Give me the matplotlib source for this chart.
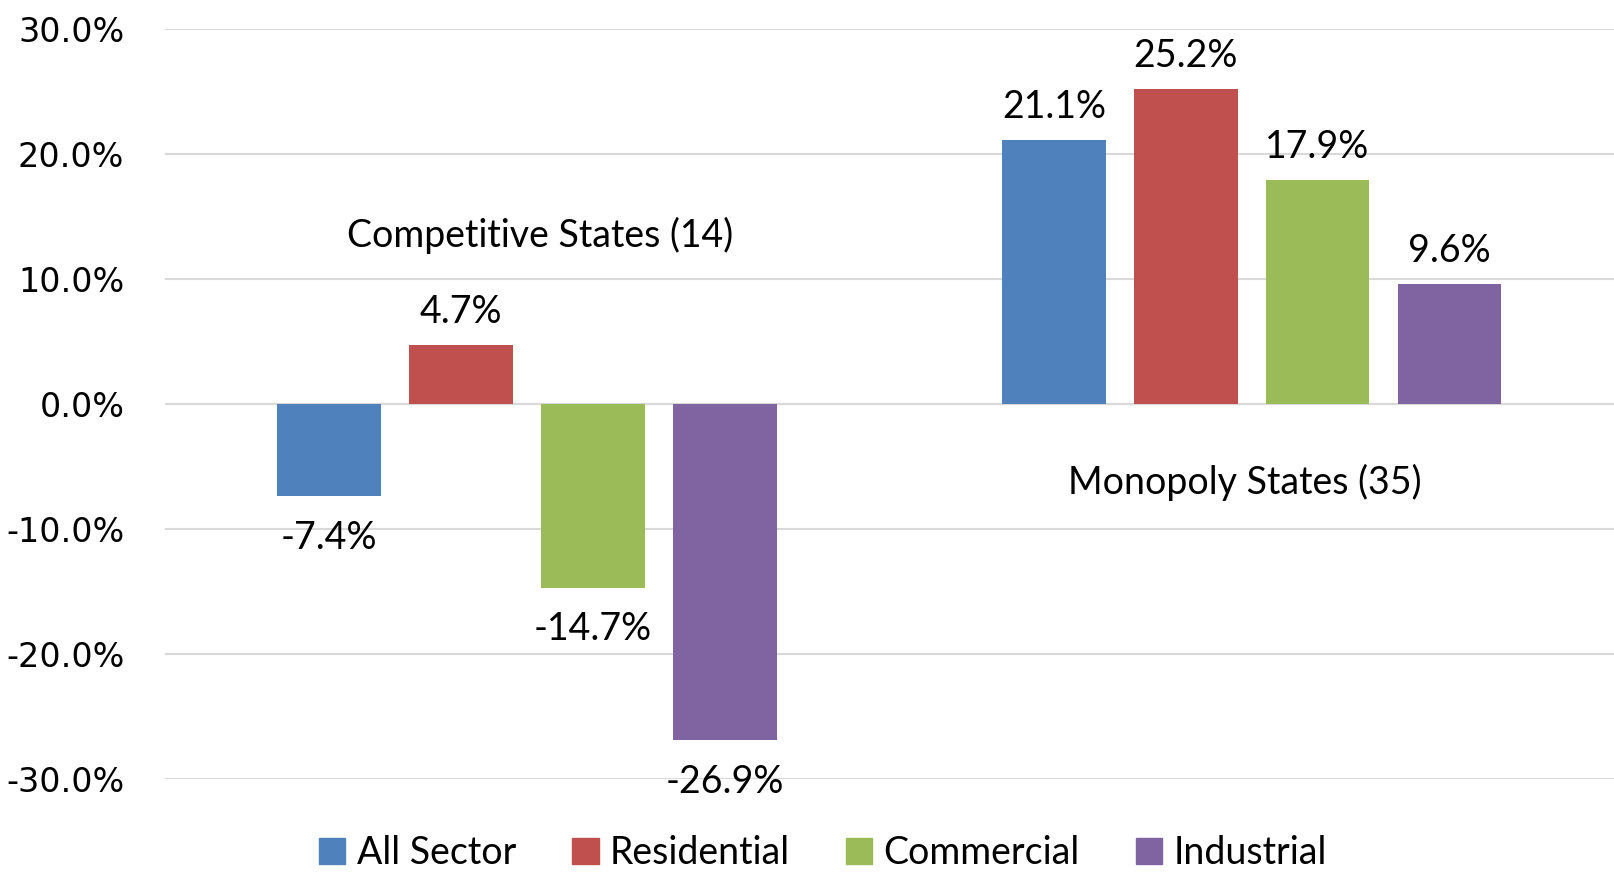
import numpy as np
import matplotlib.pyplot as plt
from matplotlib.patches import Patch

groups = ['Competitive States (14)', 'Monopoly States (35)']
sectors = ['All Sector', 'Residential', 'Commercial', 'Industrial']
values = {
    'All Sector': [-7.4, 21.1],
    'Residential': [4.7, 25.2],
    'Commercial': [-14.7, 17.9],
    'Industrial': [-26.9, 9.6],
}
colors = ['#4F81BD', '#C0504D', '#9BBB59', '#8064A2']
yticks = [-30, -20, -10, 0, 10, 20, 30]

fig = plt.figure(figsize=(16.14, 8.72), dpi=100)
ax = fig.add_axes([0.102, 0.1067, 0.898, 0.8600])

x = np.arange(len(groups))
step = 0.182
width = 0.143
for i, s in enumerate(sectors):
    pos = x + (i - 1.5) * step
    vals = values[s]
    ax.bar(pos, vals, width, color=colors[i], zorder=3)
    for px, v in zip(pos, vals):
        if v >= 0:
            ax.text(px, v + 1.2, f'{v:.1f}%', ha='center', va='bottom',
                    fontsize=27, family='Lato')
        else:
            ax.text(px, v - 1.9, f'{v:.1f}%', ha='center', va='top',
                    fontsize=27, family='Lato')

# category labels sit inside the plot
ax.text(0.018, 13.5, groups[0], ha='center', va='center', fontsize=27, family='Lato')
ax.text(0.99, -6.3, groups[1], ha='center', va='center', fontsize=27, family='Lato')

ax.set_xlim(-0.5, 1.5)
ax.set_ylim(-30, 30)
ax.set_yticks(yticks)
ax.set_yticklabels([f'{t:.1f}%' for t in yticks], fontsize=24, family='DejaVu Sans')
ax.set_xticks([])
ax.tick_params(axis='y', length=0, pad=29)
ax.yaxis.grid(True, color='#d9d9d9', linewidth=1.5, zorder=0)
ax.axhline(0, color='#d0d0d0', linewidth=1.5, zorder=1)
for sp in ax.spines.values():
    sp.set_visible(False)

handles = [Patch(color=c, label=s) for c, s in zip(colors, sectors)]
fig.legend(handles=handles, loc='center', bbox_to_anchor=(0.51, 0.022), ncol=4,
           frameon=False, prop={'family': 'Lato', 'size': 27},
           handlelength=0.7, handleheight=0.7, handletextpad=0.3, columnspacing=1.5)

fig.savefig('out.png', dpi=100)
